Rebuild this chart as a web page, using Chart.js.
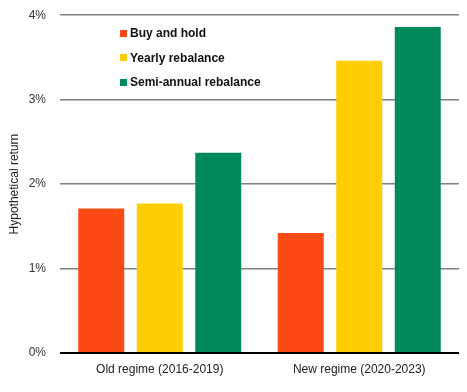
<!DOCTYPE html>
<html>
<head>
<meta charset="utf-8">
<script src="https://cdn.jsdelivr.net/npm/chart.js@4/dist/chart.umd.min.js"></script>
<style>
  body { margin: 0; background: #fff; overflow: hidden; }
  #wrap { position: relative; width: 467px; height: 392px; overflow: hidden; }
  #grafico { position: absolute; left: 0; top: -6px; }
  #leyenda { position: absolute; left: 120px; top: 21px; font: bold 12px "Liberation Sans", Arial, sans-serif; color: #111; }
  #leyenda div { height: 24.5px; display: flex; align-items: center; }
  #leyenda span { display: inline-block; width: 7px; height: 7px; margin-right: 3px; }
</style>
</head>
<body>
<div id="wrap">
  <canvas id="grafico" width="467" height="398"></canvas>
  <div id="leyenda"></div>
</div>
<script>
// datos
const categorias = ["Old regime (2016-2019)", "New regime (2020-2023)"];
const series = ["Buy and hold", "Yearly rebalance", "Semi-annual rebalance"];
const buyHold = [1.71, 1.42];
const anual = [1.77, 3.46];
const semestral = [2.37, 3.86];
const ticksY = [0, 1, 2, 3, 4];
const colores = ["#FC4A14", "#FFCD00", "#008A5B"];

const fuente = "'Liberation Sans', Arial, sans-serif";

const valores = [buyHold, anual, semestral];
const datasets = series.map((nombre, i) => ({
  label: nombre,
  data: valores[i],
  backgroundColor: colores[i],
  borderWidth: 0,
  categoryPercentage: 0.88,
  barPercentage: 0.786,
}));

new Chart(document.getElementById("grafico").getContext("2d"), {
  type: "bar",
  data: { labels: categorias, datasets },
  options: {
    responsive: false,
    animation: false,
    layout: { padding: { top: 1, right: 8, left: 7, bottom: 0 } },
    plugins: { legend: { display: false }, tooltip: { enabled: false } },
    scales: {
      x: {
        grid: { display: false, drawTicks: false },
        border: { display: false },
        ticks: { color: "#222", font: { family: fuente, size: 12 }, padding: 9 },
        afterFit: s => { s.height = 39; },
      },
      y: {
        min: 0,
        max: 4,
        afterBuildTicks: s => { s.ticks = ticksY.map(v => ({ value: v })); },
        grid: {
          drawTicks: false,
          color: ctx => ctx.tick && ctx.tick.value === 0 ? "#000" : "#7f7f7f",
          lineWidth: ctx => ctx.tick && ctx.tick.value === 0 ? 2 : 1.5,
        },
        border: { display: false },
        ticks: {
          color: "#333",
          font: { family: fuente, size: 12 },
          padding: 14,
          callback: v => v + "%",
        },
        title: {
          display: true,
          text: "Hypothetical return",
          color: "#222",
          font: { family: fuente, size: 12 },
          padding: 0,
        },
        afterFit: s => { s.width = 53; },
      },
    },
  },
});

// leyenda dentro del area
const leyenda = document.getElementById("leyenda");
leyenda.innerHTML = series.map((s, i) =>
  `<div><span style="background:${colores[i]}"></span>${s}</div>`).join("");
</script>
</body>
</html>
